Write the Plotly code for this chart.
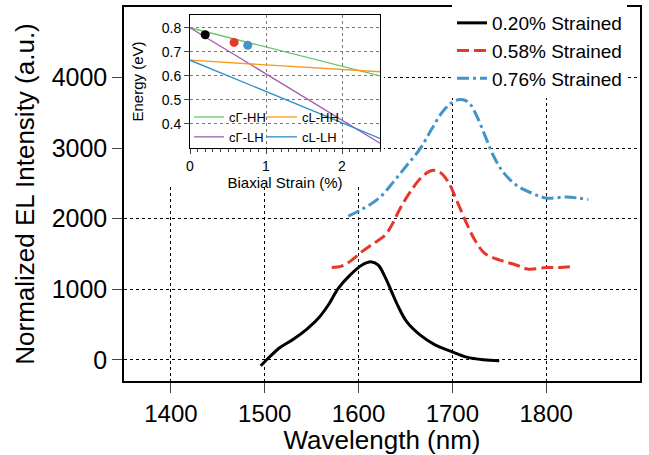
import plotly.graph_objects as go

# ---- main EL spectra ----
wl_020 = [1495.7, 1505.6, 1516.3, 1530.5, 1544.7, 1557.1, 1567.8, 1578.4, 1590.9, 1603.3, 1614.0,
          1621.0, 1628.2, 1635.3, 1642.4, 1651.3, 1665.5, 1681.5, 1699.3, 1715.3, 1733.0, 1750.0]
el_020 = [-85, 47, 174, 292, 433, 588, 777, 1012, 1200, 1341, 1388,
          1341, 1176, 964, 753, 541, 353, 212, 117, 38, 0, -14]

wl_058 = [1571.4, 1582.0, 1592.7, 1603.3, 1615.7, 1628.2, 1635.3, 1644.2, 1654.9, 1667.3, 1678.0, 1686.8,
          1695.7, 1704.6, 1715.3, 1724.1, 1734.8, 1750.8, 1768.6, 1780.9, 1800.5, 1814.7, 1830.7]
el_058 = [1309, 1327, 1412, 1529, 1647, 1765, 1906, 2142, 2377, 2588, 2683, 2659,
          2518, 2259, 1930, 1694, 1506, 1412, 1341, 1285, 1309, 1309, 1327]

wl_076 = [1589.1, 1601.6, 1621.1, 1637.0, 1651.3, 1665.5, 1678.0, 1690.4, 1702.8, 1711.7, 1718.8, 1725.9,
          1734.8, 1743.6, 1754.2, 1768.6, 1786.3, 1800.5, 1821.8, 1844.9]
el_076 = [2038, 2118, 2283, 2518, 2753, 2989, 3272, 3530, 3671, 3685, 3625, 3459,
          3177, 2895, 2659, 2471, 2354, 2292, 2306, 2273]

series_names = ["0.20% Strained", "0.58% Strained", "0.76% Strained"]
x_ticks = [1400, 1500, 1600, 1700, 1800]
y_ticks = [0, 1000, 2000, 3000, 4000]

# ---- inset: band energies vs strain ----
strain = [0, 2.5]
e_G_HH = [0.800, 0.600]
e_G_LH = [0.800, 0.320]
e_L_HH = [0.665, 0.617]
e_L_LH = [0.665, 0.340]
inset_names = ["cΓ-HH", "cΓ-LH", "cL-HH", "cL-LH"]
strain_pts = [0.20, 0.58, 0.76]
energy_pts = [0.771, 0.739, 0.727]
inset_x_ticks = [0, 1, 2]
inset_y_ticks = [0.4, 0.5, 0.6, 0.7, 0.8]

FONT = "Liberation Sans"
RED = "#e8362b"
BLUE = "#4394c8"

X_RANGE = [1350, 1900]
Y_RANGE = [-300, 5000]

fig = go.Figure()

fig.add_trace(go.Scatter(x=wl_020, y=el_020, mode="lines", name=series_names[0],
                         line=dict(color="black", width=3, shape="spline"), legend="legend"))
fig.add_trace(go.Scatter(x=wl_058, y=el_058, mode="lines", name=series_names[1],
                         line=dict(color=RED, width=3, dash="12px,5px", shape="spline"), legend="legend"))
fig.add_trace(go.Scatter(x=wl_076, y=el_076, mode="lines", name=series_names[2],
                         line=dict(color=BLUE, width=3, dash="12px,4px,3px,4px", shape="spline"),
                         legend="legend"))

# inset traces
fig.add_trace(go.Scatter(x=strain, y=e_G_HH, mode="lines", name=inset_names[0], xaxis="x2", yaxis="y2",
                         line=dict(color="#6cc46a", width=1.3), legend="legend2"))
fig.add_trace(go.Scatter(x=strain, y=e_G_LH, mode="lines", name=inset_names[1], xaxis="x2", yaxis="y2",
                         line=dict(color="#a35db3", width=1.3), legend="legend2"))
fig.add_trace(go.Scatter(x=strain, y=e_L_HH, mode="lines", name=inset_names[2], xaxis="x2", yaxis="y2",
                         line=dict(color="#f59b1e", width=1.3), legend="legend3"))
fig.add_trace(go.Scatter(x=strain, y=e_L_LH, mode="lines", name=inset_names[3], xaxis="x2", yaxis="y2",
                         line=dict(color="#2d8cc9", width=1.3), legend="legend3"))
fig.add_trace(go.Scatter(x=strain_pts, y=energy_pts, mode="markers", xaxis="x2", yaxis="y2",
                         marker=dict(color=["black", RED, BLUE], size=9), showlegend=False))

W, H = 649, 455
ML, MR, MT, MB = 124, 9, 7, 74
pw, ph = W - ML - MR, H - MT - MB

def px_x(p):
    return (p - ML) / pw

def px_y(p):
    return (H - MB - p) / ph

def frac_to_x(f):
    return X_RANGE[0] + f * (X_RANGE[1] - X_RANGE[0])

def frac_to_y(f):
    return Y_RANGE[0] + f * (Y_RANGE[1] - Y_RANGE[0])

fig.update_layout(
    width=W, height=H,
    margin=dict(l=ML, r=MR, t=MT, b=MB, pad=0, autoexpand=False),
    paper_bgcolor="white", plot_bgcolor="white",
    font=dict(family=FONT, color="black"),
    xaxis=dict(range=X_RANGE, tickvals=x_ticks, ticks="outside", ticklen=10, tickwidth=1.2,
               showline=True, linecolor="black", linewidth=1.5, mirror=True,
               showgrid=True, gridcolor="black", griddash="dot", gridwidth=1,
               zeroline=False, tickfont=dict(size=24),
               title=dict(text="Wavelength (nm)", font=dict(size=26), standoff=10)),
    yaxis=dict(range=Y_RANGE, tickvals=y_ticks, ticks="outside", ticklen=10, tickwidth=1.2,
               showline=True, linecolor="black", linewidth=1.5, mirror=True,
               showgrid=True, gridcolor="black", griddash="dot", gridwidth=1,
               zeroline=False, tickfont=dict(size=25),
               title=dict(text="Normalized EL Intensity (a.u.)", font=dict(size=26), standoff=10)),
    xaxis2=dict(domain=[px_x(190), px_x(380)], anchor="y2", range=[0, 2.5], tickvals=inset_x_ticks,
                ticks="outside", ticklen=5, showline=True, linecolor="black", linewidth=1, mirror=True,
                showgrid=True, gridcolor="#777777", griddash="dot", gridwidth=1, zeroline=False,
                minor=dict(dtick=0.1, ticks="outside", ticklen=3, showgrid=False),
                tickfont=dict(size=14),
                title=dict(text="Biaxial Strain (%)", font=dict(size=15), standoff=4)),
    yaxis2=dict(domain=[px_y(148), px_y(15)], anchor="x2", range=[0.3, 0.853],
                tickvals=inset_y_ticks, ticks="outside", ticklen=5,
                showline=True, linecolor="black", linewidth=1, mirror=True,
                showgrid=True, gridcolor="#777777", griddash="dot", gridwidth=1, zeroline=False,
                tickfont=dict(size=14),
                title=dict(text="Energy (eV)", font=dict(size=15), standoff=14)),
    legend=dict(x=px_x(627), xanchor="right", y=px_y(4), yanchor="top", bgcolor="white",
                font=dict(size=19, family=FONT), borderwidth=0, tracegroupgap=0),
    legend2=dict(x=px_x(189), xanchor="left", y=px_y(127), yanchor="middle",
                 bgcolor="rgba(0,0,0,0)", font=dict(size=13, family=FONT), borderwidth=0),
    legend3=dict(x=px_x(262), xanchor="left", y=px_y(127), yanchor="middle",
                 bgcolor="rgba(0,0,0,0)", font=dict(size=13, family=FONT), borderwidth=0),
    shapes=[dict(type="rect", xref="x", yref="y", layer="between",
                 x0=frac_to_x(0), x1=frac_to_x(px_x(384)),
                 y0=frac_to_y(px_y(186)), y1=frac_to_y(1),
                 fillcolor="white", line=dict(width=0))],
)

fig.write_html("out.html", config={"displayModeBar": False},
               post_script="document.body.style.margin='0';")
